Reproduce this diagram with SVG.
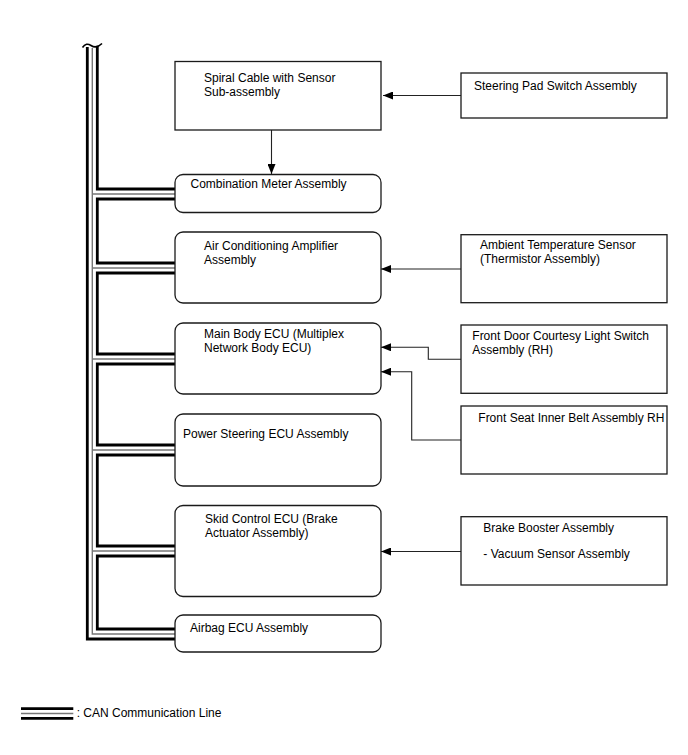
<svg xmlns="http://www.w3.org/2000/svg" width="688" height="755" viewBox="0 0 688 755">
<defs>
<marker id="arr" markerUnits="userSpaceOnUse" markerWidth="10" markerHeight="8" refX="10" refY="4" orient="auto">
<path d="M0,0 L10,4 L0,8 z" fill="#000"/>
</marker>
</defs>
<style>
.box{fill:#fff;stroke:#1a1a1a;stroke-width:1.3}
.t{font-family:"Liberation Sans",Arial,sans-serif;font-size:12px;fill:#000}
.con{fill:none;stroke:#222;stroke-width:1.1}
.thick{fill:none;stroke:#000;stroke-width:2.8}
.thin{fill:none;stroke:#777;stroke-width:1.4}
</style>
<rect width="688" height="755" fill="#fff"/>

<g id="bus">
<path class="thick" d="M87.3 47 V639 H175"/>
<path class="thin" d="M92.3 48 V634 H175 M92.3 194 H175 M92.3 268 H175 M92.3 359 H175 M92.3 450 H175 M92.3 551 H175"/>
<path class="thick" d="M97.3 47 V189 H175 M175 199 H97.3 V263 H175 M175 273 H97.3 V354 H175 M175 364 H97.3 V445 H175 M175 455 H97.3 V546 H175 M175 556 H97.3 V629 H175"/>
<path d="M82.5 47.5 C85 43.5 88 43.5 91 45.5 S98 47.5 102 43.5" fill="none" stroke="#000" stroke-width="1.6"/>
</g>

<g id="connectors">
<path class="con" d="M461 95.5 H383" marker-end="url(#arr)"/>
<path class="con" d="M271.5 130 V174" marker-end="url(#arr)"/>
<path class="con" d="M461 269 H381" marker-end="url(#arr)"/>
<path class="con" d="M461 359.3 H428.3 V347.3 H381" marker-end="url(#arr)"/>
<path class="con" d="M461 440 H411.7 V371.7 H381" marker-end="url(#arr)"/>
<path class="con" d="M461 551.5 H381" marker-end="url(#arr)"/>
</g>

<g id="spiral">
<rect class="box" x="175" y="61.5" width="206" height="68.5"/>
<text class="t" x="204" y="81.5">Spiral Cable with Sensor</text>
<text class="t" x="204" y="95.5">Sub-assembly</text>
</g>
<g id="steering-pad">
<rect class="box" x="461" y="73" width="206" height="45"/>
<text class="t" x="474" y="89.5">Steering Pad Switch Assembly</text>
</g>
<g id="combination-meter">
<rect class="box" x="175" y="174.5" width="206" height="38" rx="8"/>
<text class="t" x="190.5" y="187.5">Combination Meter Assembly</text>
</g>
<g id="ac-amplifier">
<rect class="box" x="175" y="232" width="206" height="71" rx="8"/>
<text class="t" x="204" y="249.5">Air Conditioning Amplifier</text>
<text class="t" x="204" y="263.5">Assembly</text>
</g>
<g id="ambient-sensor">
<rect class="box" x="461" y="234.7" width="206" height="68"/>
<text class="t" x="480" y="249.3">Ambient Temperature Sensor</text>
<text class="t" x="480" y="263.3">(Thermistor Assembly)</text>
</g>
<g id="main-body-ecu">
<rect class="box" x="175" y="323" width="206" height="71" rx="8"/>
<text class="t" x="204" y="337.5">Main Body ECU (Multiplex</text>
<text class="t" x="204" y="352">Network Body ECU)</text>
</g>
<g id="front-door">
<rect class="box" x="461" y="325" width="206" height="68.3"/>
<text class="t" x="472.3" y="340">Front Door Courtesy Light Switch</text>
<text class="t" x="472.3" y="354">Assembly (RH)</text>
</g>
<g id="front-seat">
<rect class="box" x="461" y="406" width="206" height="68"/>
<text class="t" x="478.3" y="421.7">Front Seat Inner Belt Assembly RH</text>
</g>
<g id="power-steering">
<rect class="box" x="175" y="414" width="206" height="72" rx="8"/>
<text class="t" x="183" y="437.5">Power Steering ECU Assembly</text>
</g>
<g id="skid-control">
<rect class="box" x="175" y="505.5" width="206" height="91" rx="8"/>
<text class="t" x="205" y="522.7">Skid Control ECU (Brake</text>
<text class="t" x="205" y="536.7">Actuator Assembly)</text>
</g>
<g id="brake-booster">
<rect class="box" x="461" y="516.7" width="206" height="68.3"/>
<text class="t" x="483.3" y="531.7">Brake Booster Assembly</text>
<text class="t" x="483.3" y="558.3">- Vacuum Sensor Assembly</text>
</g>
<g id="airbag">
<rect class="box" x="175" y="615" width="206" height="37" rx="8"/>
<text class="t" x="190" y="631.5">Airbag ECU Assembly</text>
</g>

<g id="legend">
<path class="thick" d="M21 708.7 H73.3 M21 718.3 H73.3"/>
<path class="thin" d="M21 713.5 H73.3"/>
<text class="t" x="76.7" y="717">: CAN Communication Line</text>
</g>
</svg>
